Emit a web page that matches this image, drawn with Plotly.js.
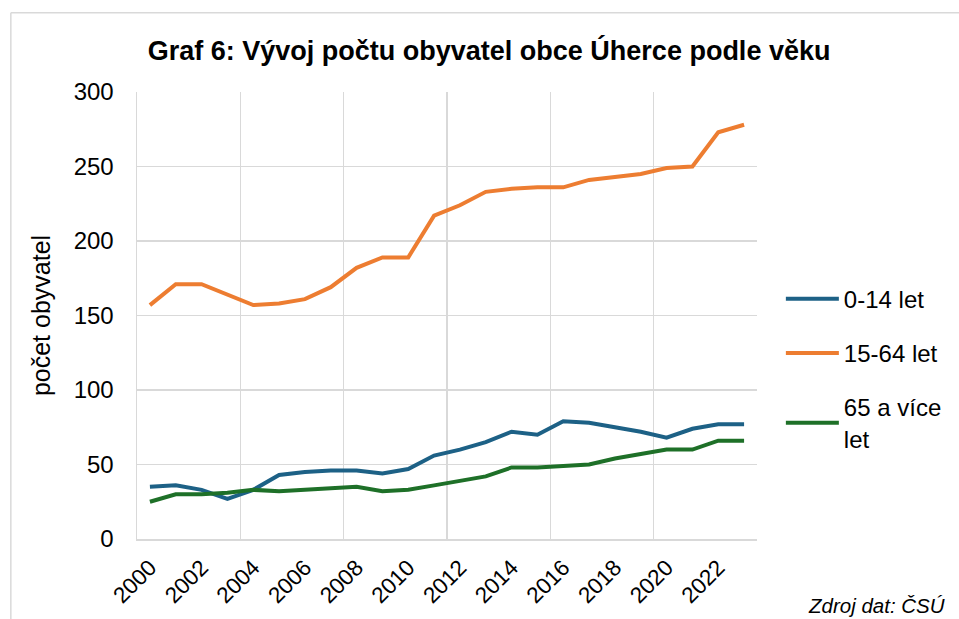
<!DOCTYPE html>
<html>
<head>
<meta charset="utf-8">
<script src="https://cdn.plot.ly/plotly-3.0.1.min.js"></script>
<style>html,body{margin:0;padding:0;background:#fff;}#chart{width:959px;height:619px;}</style>
</head>
<body>
<div id="chart"></div>
<script>
const years = [2000,2001,2002,2003,2004,2005,2006,2007,2008,2009,2010,2011,2012,2013,2014,2015,2016,2017,2018,2019,2020,2021,2022,2023];
const age0_14 = [35,36,33,27,33,43,45,46,46,44,47,56,60,65,72,70,79,78,75,72,68,74,77,77];
const age15_64 = [157,171,171,164,157,158,161,169,182,189,189,217,224,233,235,236,236,241,243,245,249,250,273,278];
const age65plus = [25,30,30,31,33,32,33,34,35,32,33,36,39,42,48,48,49,50,54,57,60,60,66,66];
const seriesNames = ["0-14 let", "15-64 let", "65 a více<br>let"];
const tickYears = [2000,2002,2004,2006,2008,2010,2012,2014,2016,2018,2020,2022];
const titleText = "Graf 6: Vývoj počtu obyvatel obce Úherce podle věku";
const yTitle = "počet obyvatel";
const sourceText = "Zdroj dat: ČSÚ";

const colors = ["#1d6186", "#ed7d31", "#1e7028"];
const seriesData = [age0_14, age15_64, age65plus];
const font = "Liberation Sans, Arial, sans-serif";

const traces = seriesData.map((vals, i) => ({
  x: years, y: vals, type: "scatter", mode: "lines",
  name: seriesNames[i], legendgroup: "g" + i,
  line: {color: colors[i], width: 4, shape: "linear"}
}));

const layout = {
  width: 959, height: 619,
  margin: {l: 137, r: 198, t: 92, b: 80},
  paper_bgcolor: "#fff", plot_bgcolor: "#fff",
  font: {family: font, color: "#000", size: 23},
  title: {text: "<b>" + titleText + "</b>", font: {family: font, size: 27, color: "#000"},
          x: 0.51, xanchor: "center", y: 0.919, yanchor: "middle", xref: "container", yref: "container"},
  xaxis: {
    range: [years[0] - 0.5, years[years.length - 1] + 0.5],
    tickmode: "array", tickvals: tickYears, ticktext: tickYears.map(String),
    tickangle: -45, showgrid: false, zeroline: false,
    ticks: "outside", ticklen: 5, tickcolor: "rgba(0,0,0,0)",
    tickfont: {size: 22.5, family: font},
    showline: true, linecolor: "#d9d9d9", linewidth: 1.5,
    minor: {tickmode: "linear", tick0: years[0] - 0.5, dtick: 4, showgrid: true, gridcolor: "#d9d9d9", gridwidth: 1.5, ticks: ""},
    fixedrange: true
  },
  yaxis: {
    range: [0, 300], dtick: 50, tick0: 0,
    showgrid: true, gridcolor: "#d9d9d9", gridwidth: 1.5, zeroline: false,
    showline: true, linecolor: "#d9d9d9", linewidth: 1.5, mirror: false,
    ticks: "outside", ticklen: 17, tickcolor: "rgba(0,0,0,0)",
    tickfont: {size: 24, family: font},
    title: {text: yTitle, font: {size: 25, family: font}, standoff: 16},
    fixedrange: true
  },
  showlegend: true,
  legend: {
    x: 1.0385, xanchor: "left", xref: "paper", y: 0.587, yanchor: "top",
    font: {size: 24, family: font}, traceorder: "grouped", tracegroupgap: 20,
    itemwidth: 53, bgcolor: "rgba(0,0,0,0)"
  },
  annotations: [{
    text: "<i>" + sourceText + "</i>", xref: "paper", yref: "paper",
    x: 1.306, y: -0.149, xanchor: "right", yanchor: "middle", showarrow: false,
    font: {size: 20.5, family: font, color: "#000"}
  }],
  shapes: [
    {type: "line", xref: "paper", yref: "paper", x0: -0.2035, x1: -0.2035, y0: 1.1774, y1: -0.3, line: {color: "#d9d9d9", width: 1.5}},
    {type: "line", xref: "paper", yref: "paper", x0: -0.2035, x1: 1.4, y0: 1.1774, y1: 1.1774, line: {color: "#d9d9d9", width: 1.5}}
  ]
};

Plotly.newPlot("chart", traces, layout, {displayModeBar: false, staticPlot: true});
</script>
</body>
</html>
